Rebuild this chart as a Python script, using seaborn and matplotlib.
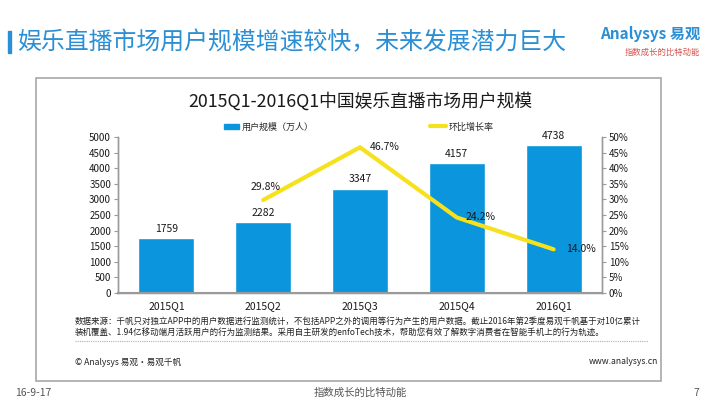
import matplotlib
matplotlib.use("Agg")
import matplotlib.pyplot as plt
import matplotlib.patches as mpatches
import matplotlib.lines as mlines
from matplotlib.ticker import FuncFormatter
import seaborn as sns
import pandas as pd

# ---- data ----
quarters = ["2015Q1", "2015Q2", "2015Q3", "2015Q4", "2016Q1"]
users = [1759, 2282, 3347, 4157, 4738]          # 用户规模（万人）
growth_quarters = ["2015Q2", "2015Q3", "2015Q4", "2016Q1"]
growth = [29.8, 46.7, 24.2, 14.0]               # 环比增长率 (%)
left_ticks = [0, 500, 1000, 1500, 2000, 2500, 3000, 3500, 4000, 4500, 5000]
right_ticks = [0, 5, 10, 15, 20, 25, 30, 35, 40, 45, 50]

slide_title = "娱乐直播市场用户规模增速较快，未来发展潜力巨大"
chart_title = "2015Q1-2016Q1中国娱乐直播市场用户规模"
legend_bar = "用户规模（万人）"
legend_line = "环比增长率"
source_text = ("数据来源：千帆只对独立APP中的用户数据进行监测统计，不包括APP之外的调用等行为产生的用户数据。截止2016年第2季度易观千帆基于对10亿累计\n"
               "装机覆盖、1.94亿移动端月活跃用户的行为监测结果。采用自主研发的enfoTech技术，帮助您有效了解数字消费者在智能手机上的行为轨迹。")
copyright_text = "© Analysys 易观·易观千帆"
url_text = "www.analysys.cn"
footer_date = "16-9-17"
footer_slogan = "指数成长的比特动能"
page_no = "7"

sns.set_theme(style="white")
plt.rcParams['font.family'] = ['Noto Sans CJK SC', 'DejaVu Sans']

BAR = "#0a95dc"
YEL = "#f5e11c"
GRAY = "#9a9a9a"
BLUE_T = "#2a8fd4"

fig = plt.figure(figsize=(7.2, 4.05), dpi=100)
W, H = 720, 405
def fx(px): return px / W
def fy(py): return 1 - py / H

# slide header
fig.patches.append(mpatches.Rectangle((fx(8), fy(53)), fx(2.5), 22 / H, transform=fig.transFigure,
                                      color=BLUE_T, zorder=5))
fig.text(fx(17), fy(43), slide_title, fontsize=17.2, color=BLUE_T, va="center", ha="left",
         fontweight="light")
fig.text(fx(700), fy(34), "Analysys 易观", fontsize=11, color=BLUE_T, va="center", ha="right",
         fontweight="bold")
fig.text(fx(700), fy(52), footer_slogan, fontsize=6, color="#d9534f", va="center", ha="right")

# grey frame
fig.patches.append(mpatches.Rectangle((fx(36), fy(381)), fx(661 - 36), (381 - 78) / H,
                                      transform=fig.transFigure, fill=False, edgecolor="#a8a8a8",
                                      linewidth=1.2, zorder=1))

fig.text(fx(360), fy(101), chart_title, fontsize=12.8, color="#1a1a1a", ha="center", va="center")

# axes
ax = fig.add_axes([fx(118), fy(293), fx(602 - 118), (293 - 137) / H])
df = pd.DataFrame({"quarter": quarters, "users": users})
sns.barplot(data=df, x="quarter", y="users", color=BAR, width=0.58, saturation=1, ax=ax, zorder=2)
ax.set_xlim(-0.5, len(quarters) - 0.5)
ax.set_ylim(0, 5000)
ax.set_yticks(left_ticks)
ax.set_xlabel("")
ax.set_ylabel("")
ax.bar_label(ax.containers[0], labels=[str(v) for v in users], padding=3, fontsize=7.5, color="#1a1a1a")

ax2 = ax.twinx()
gdf = pd.DataFrame({"pos": [quarters.index(q) for q in growth_quarters], "growth": growth})
sns.lineplot(data=gdf, x="pos", y="growth", color=YEL, linewidth=3, ax=ax2, sort=False, zorder=3)
ax2.set_ylim(0, 50)
ax2.set_yticks(right_ticks)
ax2.yaxis.set_major_formatter(FuncFormatter(lambda v, p: f"{v:.0f}%"))
ax2.set_xlabel("")
ax2.set_ylabel("")
ax2.set_xlim(-0.5, len(quarters) - 0.5)

offsets = [(2, 6, "center", "bottom"), (7, 0, "left", "center"),
           (6, 0, "left", "center"), (9, 0, "left", "center")]
for x, g, (dx, dy, ha, va) in zip(gdf["pos"], growth, offsets):
    ax2.annotate(f"{g:.1f}%", (x, g), xytext=(dx, dy), textcoords="offset points",
                 ha=ha, va=va, fontsize=7.5, color="#1a1a1a")

for a in (ax, ax2):
    for s in a.spines.values():
        s.set_color(GRAY)
        s.set_linewidth(1)
    a.spines["top"].set_visible(False)
    a.tick_params(axis="y", length=3, width=0.8, color=GRAY, labelsize=7, labelcolor="#1a1a1a", pad=2)
    a.grid(False)
ax.spines["bottom"].set_linewidth(1.5)
ax.tick_params(axis="x", length=0, labelsize=7.5, labelcolor="#1a1a1a", pad=6)
ax.tick_params(axis="y", left=True)
ax2.tick_params(axis="y", right=True)
ax.set_facecolor("none")

# legends
h1 = mpatches.Patch(color=BAR, label=legend_bar)
h2 = mlines.Line2D([], [], color=YEL, linewidth=3, label=legend_line)
fig.legend(handles=[h1], loc="center left", bbox_to_anchor=(fx(216), fy(127)), frameon=False,
           fontsize=6.5, handlelength=1.6, handleheight=0.55, handletextpad=0.3)
fig.legend(handles=[h2], loc="center left", bbox_to_anchor=(fx(422), fy(127)), frameon=False,
           fontsize=6.5, handlelength=1.8, handletextpad=0.2)

# source / footer
fig.text(fx(75), fy(327), source_text, fontsize=6.1, color="#222222", ha="left", va="center",
         linespacing=1.2)
fig.lines.append(mlines.Line2D([fx(75), fx(648)], [fy(341), fy(341)], transform=fig.transFigure,
                               color="#b0b0b0", linewidth=0.8, linestyle=(0, (1, 1))))
fig.text(fx(75), fy(362), copyright_text, fontsize=6.2, color="#222222", ha="left", va="center")
fig.text(fx(658), fy(362), url_text, fontsize=6.2, color="#222222", ha="right", va="center")

fig.text(fx(15), fy(393), footer_date, fontsize=7.5, color="#555555", ha="left", va="center")
fig.text(fx(360), fy(393), footer_slogan, fontsize=7.5, color="#555555", ha="center", va="center")
fig.text(fx(699), fy(393), page_no, fontsize=7.5, color="#555555", ha="right", va="center")

fig.savefig("out.png", dpi=100)
